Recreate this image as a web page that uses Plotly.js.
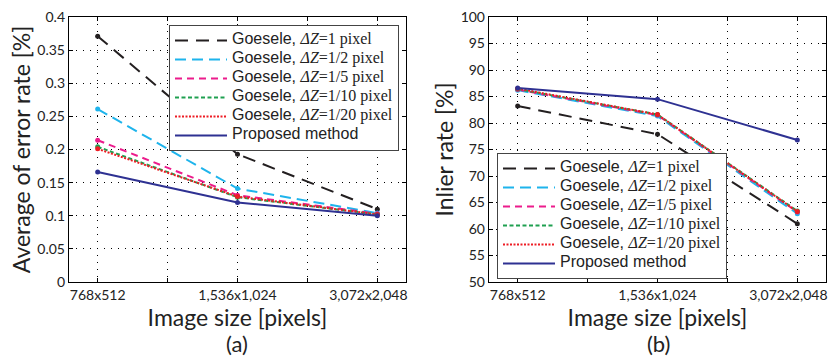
<!DOCTYPE html>
<html><head><meta charset="utf-8">
<script src="https://cdn.plot.ly/plotly-3.0.1.min.js"></script>
<style>html,body{margin:0;padding:0;background:#fff}#c{width:830px;height:358px}</style>
</head><body><div id="c"></div>
<script>
const categories = ["768x512", "1,536x1,024", "3,072x2,048"];
const seriesNames = ["1", "1/2", "1/5", "1/10", "1/20"];
const errGoesele1 = [0.371, 0.193, 0.110];
const errGoesele2 = [0.261, 0.141, 0.104];
const errGoesele5 = [0.214, 0.131, 0.103];
const errGoesele10 = [0.204, 0.128, 0.102];
const errGoesele20 = [0.201, 0.129, 0.102];
const errProposed = [0.166, 0.120, 0.100];
const inlGoesele1 = [83.2, 77.9, 61.0];
const inlGoesele2 = [86.2, 81.3, 62.9];
const inlGoesele5 = [86.3, 81.5, 63.2];
const inlGoesele10 = [86.4, 81.6, 63.4];
const inlGoesele20 = [86.5, 81.6, 63.3];
const inlProposed = [86.6, 84.5, 76.8];

const xs = categories.map((c, i) => i + 1);
const styles = [
  {color: "#231f20", dash: "13px,8px"},
  {color: "#1eb4ec", dash: "11px,6px"},
  {color: "#ec1c8c", dash: "7px,5px"},
  {color: "#1fa050", dash: "4px,2.5px"},
  {color: "#ee1c24", dash: "2px,1.5px"},
  {color: "#2e3192", dash: "solid"}
];
const serif = "font-family:'Liberation Serif','Times New Roman',serif;font-size:16px";
const sans = "font-family:'Liberation Sans',Arial,sans-serif;font-size:16px";
function nm(i) {
  if (i === 5) return '<span style="' + sans + '">Proposed method</span>';
  return '<span style="' + sans + '">Goesele, </span><span style="' + serif + '"><i>\u0394Z</i>=' + seriesNames[i] + ' pixel</span>';
}
const errSets = [errGoesele1, errGoesele2, errGoesele5, errGoesele10, errGoesele20, errProposed];
const inlSets = [inlGoesele1, inlGoesele2, inlGoesele5, inlGoesele10, inlGoesele20, inlProposed];
const traces = [];
function addSets(sets, xa, ya, leg) {
  sets.forEach((ys, i) => traces.push({
    x: xs, y: ys, type: "scatter", mode: "lines", name: nm(i),
    xaxis: xa, yaxis: ya, legend: leg,
    line: {color: styles[i].color, dash: styles[i].dash, width: 2}
  }));
  sets.forEach((ys, i) => traces.push({
    x: xs, y: ys, type: "scatter", mode: "markers", showlegend: false,
    xaxis: xa, yaxis: ya, marker: {size: 5, color: styles[i].color}
  }));
}
addSets(errSets, "x", "y", "legend");
addSets(inlSets, "x2", "y2", "legend2");

const font = "Lato, 'Open Sans', sans-serif";
const tickvals = [1, 1.5, 2, 2.5, 3];
const pad = "\u00a0\u00a0\u00a0\u00a0\u00a0";
const ticktext = [categories[0], "", categories[1], "", categories[2] + pad];
function xax(domain, anchor) {
  return {domain: domain, anchor: anchor, range: [0.795, 3.205], tickvals: tickvals, ticktext: ticktext,
    showline: true, mirror: "ticks", linecolor: "#000", linewidth: 1.2, ticks: "inside", ticklen: 4, tickcolor: "#000",
    showgrid: true, gridcolor: "#000", griddash: "1px,6px", gridwidth: 1, zeroline: false,
    ticklabeloverflow: "allow",
    tickfont: {family: font, size: 14, color: "#222"},
    title: {text: "Image size [pixels]", font: {family: font, size: 23, color: "#222"}, standoff: 0}};
}
function yax(anchor, range, dtick, title, standoff) {
  return {domain: [0, 1], anchor: anchor, range: range, dtick: dtick,
    showline: true, mirror: "ticks", linecolor: "#000", linewidth: 1.2, ticks: "inside", ticklen: 4, tickcolor: "#000",
    showgrid: true, gridcolor: "#000", griddash: "1px,6px", gridwidth: 1, zeroline: false,
    tickfont: {family: font, size: 14, color: "#222"},
    title: {text: title, font: {family: font, size: 23, color: "#222"}, standoff: standoff}};
}
const legFont = {family: "'Liberation Sans', Arial, sans-serif", size: 10, color: "#222"};
const layout = {
  width: 830, height: 358, margin: {l: 0, r: 0, t: 17, b: 76},
  paper_bgcolor: "#fff", plot_bgcolor: "#fff", showlegend: true,
  xaxis: xax([69/830, 406/830], "y"),
  yaxis: yax("x", [0, 0.4], 0.05, "Average of error rate [%]", 0),
  xaxis2: xax([489/830, 826/830], "y2"),
  yaxis2: yax("x2", [50, 100], 5, "Inlier rate [%]", 0),
  legend: {x: 169/830, y: 0.97, xanchor: "left", yanchor: "top", bgcolor: "#fff", bordercolor: "#444", borderwidth: 1,
    font: legFont, tracegroupgap: 0, itemwidth: 52},
  legend2: {x: 497/830, y: 3/265, xanchor: "left", yanchor: "bottom", bgcolor: "#fff", bordercolor: "#444", borderwidth: 1,
    font: legFont, tracegroupgap: 0, itemwidth: 52},
  annotations: [
    {text: "(a)", xref: "paper", yref: "paper", x: 237/830, y: (282-343)/265, xanchor: "center", yanchor: "middle", showarrow: false, font: {family: font, size: 22, color: "#222"}},
    {text: "(b)", xref: "paper", yref: "paper", x: 658/830, y: (282-343)/265, xanchor: "center", yanchor: "middle", showarrow: false, font: {family: font, size: 22, color: "#222"}}
  ]
};
Plotly.newPlot("c", traces, layout, {staticPlot: true, displayModeBar: false});
</script></body></html>
